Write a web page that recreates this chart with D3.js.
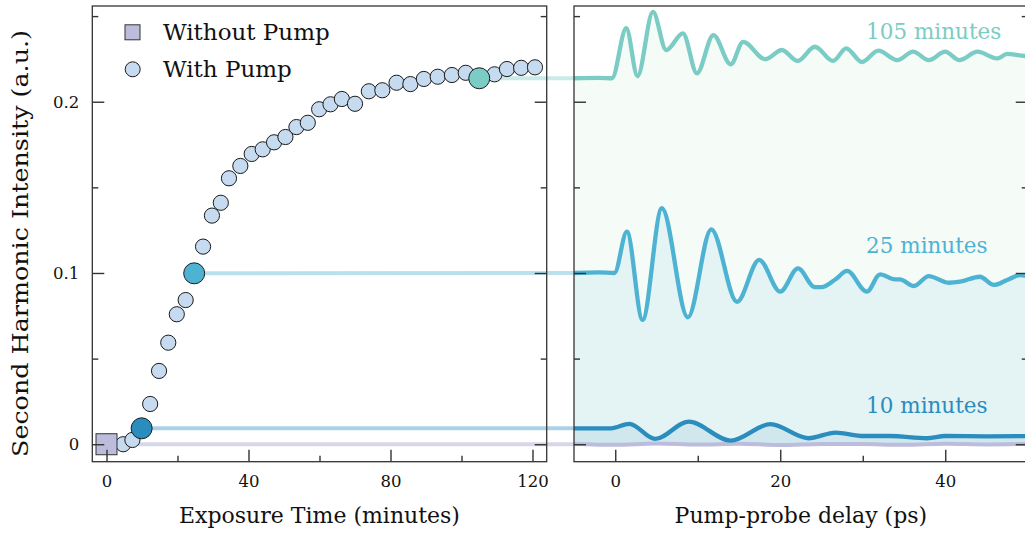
<!DOCTYPE html>
<html><head><meta charset="utf-8">
<script src="https://cdn.jsdelivr.net/npm/d3@7"></script>
<style>
body{margin:0;background:#fff}
svg{display:block}
text{font-family:"DejaVu Serif",serif;fill:#111}
</style>
</head><body>
<svg id="c" width="1025" height="536"></svg>
<script>
// ---------------- data ----------------
const withPumpTime = [4.7, 7.3, 9.9, 12.3, 14.8, 17.4, 19.8, 22.3, 24.7, 27.2, 29.7, 32.2, 34.5, 37.7, 40.9, 44.0, 47.2, 50.4, 53.5, 56.7, 59.9, 63.1, 66.3, 70.0, 73.9, 77.7, 81.7, 85.6, 89.4, 93.3, 97.3, 101.2, 105.0, 109.3, 112.8, 116.8, 120.7];
const withPumpValue = [0.0, 0.0025, 0.0093, 0.0235, 0.0428, 0.0593, 0.0759, 0.0842, 0.0998, 0.1154, 0.1335, 0.1410, 0.1553, 0.1625, 0.1695, 0.1722, 0.1763, 0.1794, 0.1852, 0.1877, 0.1956, 0.1985, 0.2016, 0.1988, 0.2061, 0.2067, 0.2111, 0.2103, 0.2133, 0.2146, 0.2156, 0.2169, 0.2137, 0.2160, 0.2191, 0.2198, 0.2201];
const withoutPumpTime = [0];
const withoutPumpValue = [0];

const highlightTime = [9.9, 24.7, 105.0];
const highlightValue = [0.0093, 0.0998, 0.2137];
const highlightLabel = ["10 minutes", "25 minutes", "105 minutes"];

const delay105 = [-5, -2, -0.4, 1.33, 2.7, 4.57, 6.18, 8.2, 9.9, 11.9, 14.0, 15.5, 18.2, 20.2, 22.1, 24.2, 26.4, 28.0, 29.9, 31.9, 34.2, 36.1, 38.0, 40.0, 41.7, 43.9, 46.3, 47.5, 49.7, 50];
const value105 = [0.2137, 0.2139, 0.2137, 0.2429, 0.2150, 0.2525, 0.2302, 0.2399, 0.2166, 0.2389, 0.2218, 0.2350, 0.2248, 0.2302, 0.2238, 0.2321, 0.2238, 0.2312, 0.2232, 0.2298, 0.2243, 0.2292, 0.2243, 0.2292, 0.2243, 0.2292, 0.2253, 0.2279, 0.2267, 0.2267];

const delay25 = [-5, -2, -0.1, 1.41, 3.31, 5.65, 8.8, 11.64, 14.75, 17.45, 20.0, 22.15, 24.2, 25.0, 26.7, 28.1, 30.5, 32.1, 33.9, 34.5, 36.2, 38.0, 40.4, 41.8, 44.2, 45.9, 47.5, 49.1, 50];
const value25 = [0.1, 0.1003, 0.1, 0.1241, 0.0726, 0.1378, 0.0741, 0.1255, 0.0832, 0.1076, 0.0891, 0.1027, 0.0917, 0.0917, 0.0963, 0.1012, 0.0891, 0.0992, 0.0963, 0.0963, 0.0924, 0.0982, 0.0943, 0.0949, 0.0978, 0.0930, 0.0959, 0.0988, 0.0982];

const delay10 = [-5, -0.5, 1.7, 4.85, 8.9, 14.0, 18.8, 23.4, 26.7, 30.1, 33.3, 37.8, 40, 45, 50];
const value10 = [0.0093, 0.0093, 0.0119, 0.0031, 0.0132, 0.0021, 0.0117, 0.0035, 0.0068, 0.0048, 0.0048, 0.0035, 0.0048, 0.0046, 0.0048];

const delayNoPump = [-5, 0, 5, 10, 15, 20, 25, 30, 35, 40, 45, 50];
const valueNoPump = [0.0002, -0.0003, 0.0004, -0.0002, 0.0003, -0.0004, 0.0002, 0.0001, -0.0003, 0.0003, -0.0001, 0.0002];

const xTicksLeftMajor = [0, 40, 80, 120];
const xTicksLeftMinor = [20, 60, 100];
const xTicksRightMajor = [0, 20, 40];
const xTicksRightMinor = [10, 30];
const yTicksMajor = [0, 0.1, 0.2];
const yTicksMinor = [0.05, 0.15, 0.25];

// ---------------- styles ----------------
const traceColors = ["#2b8cbe", "#4eb3d3", "#7bccc4"];
const fillColors = ["#2b8cbe", "#4eb3d3", "#a8ddb5"];
const fillOpacity = [0.1, 0.1, 0.11];
const pointFill = "#c6dbef";
const squareFill = "#bcbddc";
const frameColor = "#333";

// ---------------- layout ----------------
const svg = d3.select("#c");
const L = {x0: 92.3, x1: 546.7};
const R = {x0: 574, x1: 1027.75};
const yTop = 6, yBot = 461.7;

const xL = d3.scaleLinear().domain([-4, 124]).range([L.x0, L.x1]);
const xR = d3.scaleLinear().domain([-5, 50]).range([R.x0, R.x1]);
const y = d3.scaleLinear().domain([-0.0102, 0.2559]).range([yBot, yTop]);

const traces = [
  {d: delay10, v: value10, c: traceColors[0]},
  {d: delay25, v: value25, c: traceColors[1]},
  {d: delay105, v: value105, c: traceColors[2]}
];

svg.append("defs").append("clipPath").attr("id","clipR")
  .append("rect").attr("x",R.x0).attr("y",yTop).attr("width",R.x1-R.x0).attr("height",yBot-yTop);

// right panel fills (back to front: 105, 25, 10)
const gR = svg.append("g").attr("clip-path","url(#clipR)");
[2,1,0].forEach(i => {
  const t = traces[i];
  const pts = t.d.map((d,k)=>[d,t.v[k]]);
  gR.append("path").datum(pts)
    .attr("d", d3.area().x(p=>xR(p[0])).y0(y(0)).y1(p=>y(p[1])).curve(d3.curveMonotoneX))
    .attr("fill", fillColors[i]).attr("fill-opacity", fillOpacity[i]);
});

// connection lines
svg.append("line")
  .attr("x1", xL(withoutPumpTime[0])).attr("x2", R.x0)
  .attr("y1", y(0)).attr("y2", y(0))
  .attr("stroke", squareFill).attr("stroke-opacity",0.6).attr("stroke-width",4);
highlightTime.forEach((t,i)=>{
  svg.append("line")
    .attr("x1", xL(t)).attr("x2", R.x0)
    .attr("y1", y(highlightValue[i])).attr("y2", y(traces[i].v[0]))
    .attr("stroke", traceColors[i]).attr("stroke-opacity",0.4).attr("stroke-width",4);
});

// right panel traces
gR.append("path").datum(delayNoPump.map((d,k)=>[d,valueNoPump[k]]))
  .attr("d", d3.line().x(p=>xR(p[0])).y(p=>y(p[1])).curve(d3.curveMonotoneX))
  .attr("fill","none").attr("stroke","#bcbddc").attr("stroke-width",4);
[0,1,2].forEach(i=>{
  const t = traces[i];
  gR.append("path").datum(t.d.map((d,k)=>[d,t.v[k]]))
    .attr("d", d3.line().x(p=>xR(p[0])).y(p=>y(p[1])).curve(d3.curveMonotoneX))
    .attr("fill","none").attr("stroke",t.c).attr("stroke-width",4.3)
    .attr("stroke-linejoin","round").attr("stroke-linecap","round");
});

// annotations
const annotT = 30.4;
const annotV = [0.018, 0.1117, 0.2364];
highlightLabel.forEach((s,i)=>{
  svg.append("text").attr("x", xR(annotT)).attr("y", y(annotV[i]))
    .attr("font-size", 21.5).style("fill", traceColors[i]).text(s);
});

// left panel scatter
svg.append("g").selectAll("circle").data(withPumpTime).join("circle")
  .attr("cx", (d)=>xL(d)).attr("cy", (d,i)=>y(withPumpValue[i])).attr("r", 7.6)
  .attr("fill", pointFill).attr("stroke","#1a1a1a").attr("stroke-width",1);
svg.append("g").selectAll("circle").data(highlightTime).join("circle")
  .attr("cx", d=>xL(d)).attr("cy", (d,i)=>y(highlightValue[i])).attr("r", 10.5)
  .attr("fill", (d,i)=>traceColors[i]).attr("stroke","#1a1a1a").attr("stroke-width",1);
svg.append("g").selectAll("rect").data(withoutPumpTime).join("rect")
  .attr("x", d=>xL(d)-10.5).attr("y", (d,i)=>y(withoutPumpValue[i])-10.5)
  .attr("width",21).attr("height",21)
  .attr("fill", squareFill).attr("stroke","#333").attr("stroke-width",1);

// axes
function styleAxis(g){
  g.select(".domain").remove();
  g.selectAll(".tick line").attr("stroke", frameColor).attr("stroke-width",1.4);
  g.selectAll(".tick text").attr("font-family","DejaVu Serif").attr("font-size",16.5).attr("fill","#111");
}
function bottomAxes(x, major, minor){
  svg.append("g").attr("transform",`translate(0,${yBot})`)
    .call(d3.axisBottom(x).tickValues(major).tickSize(-12).tickPadding(14).tickFormat(d3.format("d")))
    .call(styleAxis);
  svg.append("g").attr("transform",`translate(0,${yBot})`)
    .call(d3.axisBottom(x).tickValues(minor).tickSize(-6).tickFormat(""))
    .call(styleAxis);
}
bottomAxes(xL, xTicksLeftMajor, xTicksLeftMinor);
bottomAxes(xR, xTicksRightMajor, xTicksRightMinor);

function sideAxes(xpos, inward, labels){
  const fmt = labels ? (d=> d===0 ? "0" : d3.format(".1f")(d)) : (()=>"");
  svg.append("g").attr("transform",`translate(${xpos},0)`)
    .call(d3.axisLeft(y).tickValues(yTicksMajor).tickSize(inward*12).tickPadding(13).tickFormat(fmt))
    .call(styleAxis);
  svg.append("g").attr("transform",`translate(${xpos},0)`)
    .call(d3.axisLeft(y).tickValues(yTicksMinor).tickSize(inward*6).tickFormat(""))
    .call(styleAxis);
}
sideAxes(L.x0, -1, true);
sideAxes(L.x1, 1, false);
sideAxes(R.x0, -1, false);
sideAxes(R.x1, 1, false);

// frames
[L, R].forEach(p=>{
  svg.append("rect").attr("x",p.x0).attr("y",yTop).attr("width",p.x1-p.x0).attr("height",yBot-yTop)
    .attr("fill","none").attr("stroke",frameColor).attr("stroke-width",1.3);
});

// axis titles
svg.append("text").attr("x",(L.x0+L.x1)/2).attr("y",523).attr("text-anchor","middle")
  .attr("font-size",22).text("Exposure Time (minutes)");
svg.append("text").attr("x",(R.x0+R.x1)/2).attr("y",523).attr("text-anchor","middle")
  .attr("font-size",22).text("Pump-probe delay (ps)");
svg.append("text").attr("transform",`translate(28,243.5) rotate(-90)`).attr("text-anchor","middle")
  .attr("font-size",21.5).attr("textLength",427).attr("lengthAdjust","spacingAndGlyphs")
  .text("Second Harmonic Intensity (a.u.)");

// legend
const lg = svg.append("g");
lg.append("rect").attr("x",125).attr("y",24.8).attr("width",15).attr("height",15)
  .attr("fill",squareFill).attr("stroke","#333").attr("stroke-width",1);
lg.append("circle").attr("cx",132.7).attr("cy",69.3).attr("r",7.5)
  .attr("fill",pointFill).attr("stroke","#1a1a1a").attr("stroke-width",1);
lg.append("text").attr("x",163).attr("y",40).attr("font-size",23).text("Without Pump");
lg.append("text").attr("x",163).attr("y",76.7).attr("font-size",23).text("With Pump");
</script>
</body></html>
